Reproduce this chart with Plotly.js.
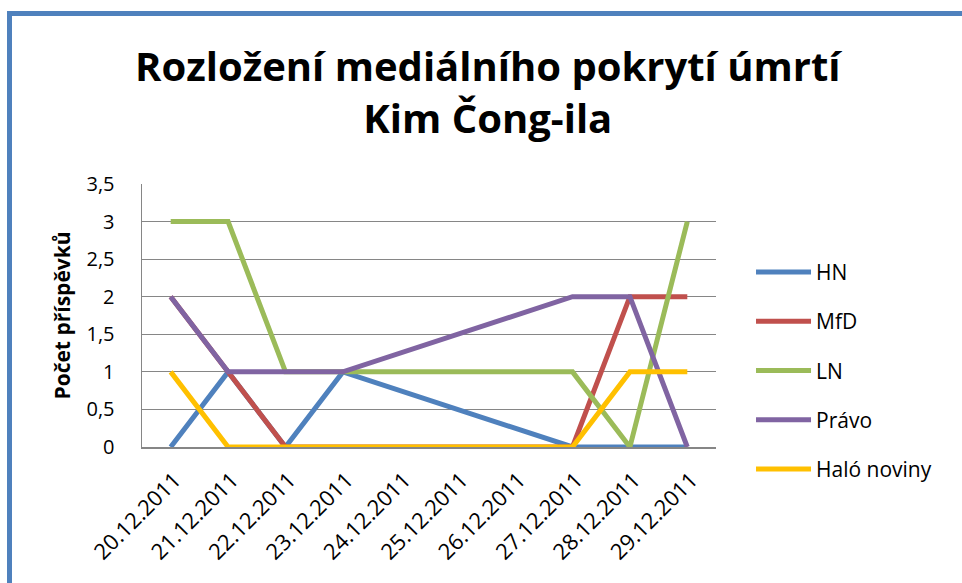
<!DOCTYPE html>
<html>
<head>
<meta charset="utf-8">
<script src="https://cdn.plot.ly/plotly-3.0.1.min.js"></script>
<style>
  html, body { margin:0; padding:0; background:#fff; }
  #wrap { position:relative; width:962px; height:583px; overflow:hidden; }
  #chart { position:absolute; left:0; top:0; width:962px; height:583px; }
  #frame { position:absolute; left:7px; top:11px; width:960px; height:580px;
           border-left:5px solid #4f81bd; border-top:5px solid #4f81bd; pointer-events:none; }
</style>
</head>
<body>
<div id="wrap">
  <div id="chart"></div>
  <div id="frame"></div>
</div>
<script>
const categories = ["20.12.2011","21.12.2011","22.12.2011","23.12.2011","24.12.2011",
                    "25.12.2011","26.12.2011","27.12.2011","28.12.2011","29.12.2011"];
const seriesNames = ["HN","MfD","LN","Právo","Haló noviny"];
const hn     = [0, 1, 0, 1, null, null, null, 0, 0, 0];
const mfd    = [2, 1, 0, 0, null, null, null, 0, 2, 2];
const ln     = [3, 3, 1, 1, null, null, null, 1, 0, 3];
const pravo  = [2, 1, 1, 1, null, null, null, 2, 2, 0];
const halo   = [1, 0, 0, 0, null, null, null, 0, 1, 1];
const yTicks = [0, 0.5, 1, 1.5, 2, 2.5, 3, 3.5];
const colors = ["#4f81bd","#c0504d","#9bbb59","#8064a2","#ffc000"];
const titleText = "Rozložení mediálního pokrytí úmrtí<br>Kim Čong-ila";
const yTitle = "Počet příspěvků";

const values = [hn, mfd, ln, pravo, halo];
const FONT = "'Open Sans', Lato, sans-serif";

const traces = values.map((v, i) => ({
  type: "scatter",
  mode: "lines",
  x: categories,
  y: v,
  name: seriesNames[i],
  connectgaps: true,
  legendgroup: "g" + i,
  line: { color: colors[i], width: 5 },
  hoverinfo: "skip"
}));

const layout = {
  width: 962, height: 583,
  margin: { l: 142, r: 246, t: 184, b: 136 },
  paper_bgcolor: "#ffffff",
  plot_bgcolor: "#ffffff",
  separators: ", ",
  font: { family: FONT, color: "#000", size: 20 },
  annotations: [{
    text: "<b>" + titleText + "</b>",
    xref: "paper", yref: "paper",
    x: 0.6045, y: 1.352, xanchor: "center", yanchor: "middle",
    showarrow: false, align: "center",
    font: { family: FONT, size: 40, color: "#000" }
  }],
  xaxis: {
    type: "category",
    categoryorder: "array",
    categoryarray: categories,
    range: [-0.5, 9.5],
    showgrid: false,
    showline: true, linecolor: "#868686", linewidth: 1.5,
    ticks: "", tickangle: -45,
    ticklabelstandoff: 10, ticklabelshift: 4,
    tickfont: { family: FONT, size: 22, color: "#000" },
    zeroline: false, fixedrange: true
  },
  yaxis: {
    range: [0, 3.5],
    tickvals: yTicks,
    ticktext: yTicks.map(v => String(v).replace(".", ",")),
    showgrid: true, gridcolor: "#868686", gridwidth: 1,
    showline: true, linecolor: "#868686", linewidth: 1.5,
    zeroline: false,
    ticks: "", ticklabelstandoff: 22,
    tickfont: { family: FONT, size: 20, color: "#000" },
    title: { text: "<b>" + yTitle + "</b>", font: { family: FONT, size: 21, color: "#000" }, standoff: 10 },
    fixedrange: true
  },
  showlegend: true,
  legend: {
    x: 1.061, xanchor: "left",
    y: 0.29, yanchor: "middle",
    traceorder: "grouped",
    tracegroupgap: 19,
    itemwidth: 55,
    font: { family: FONT, size: 21, color: "#000" },
    bgcolor: "rgba(0,0,0,0)", borderwidth: 0
  }
};

Plotly.newPlot("chart", traces, layout, { displayModeBar: false, staticPlot: true });
</script>
</body>
</html>
